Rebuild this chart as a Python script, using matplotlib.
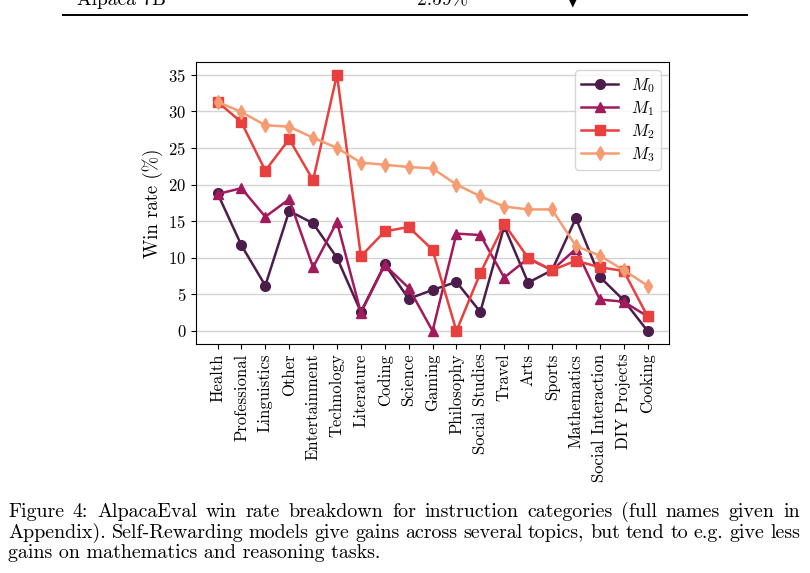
import matplotlib
matplotlib.use("Agg")
from matplotlib import pyplot as plt
import seaborn as sns

plt.rcParams["font.family"] = "serif"
plt.rcParams["font.serif"] = ["cmr10"]
plt.rcParams["mathtext.fontset"] = "cm"
plt.rcParams["axes.formatter.use_mathtext"] = True

# categories and win rates (%) per model iteration
categories = ["Health", "Professional", "Linguistics", "Other", "Entertainment",
              "Technology", "Literature", "Coding", "Science", "Gaming",
              "Philosophy", "Social Studies", "Travel", "Arts", "Sports",
              "Mathematics", "Social Interaction", "DIY Projects", "Cooking"]
m0 = [18.8, 11.7, 6.2, 16.4, 14.7, 10.0, 2.6, 9.1, 4.4, 5.6,
      6.7, 2.6, 14.3, 6.6, 8.3, 15.4, 7.4, 4.2, 0.0]
m1 = [18.7, 19.5, 15.6, 18.0, 8.7, 14.9, 2.5, 9.0, 5.9, 0.0,
      13.3, 13.1, 7.3, 9.9, 8.3, 11.2, 4.3, 4.0, 2.0]
m2 = [31.3, 28.5, 21.9, 26.2, 20.6, 35.0, 10.2, 13.6, 14.2, 11.1,
      0.0, 7.9, 14.6, 10.0, 8.3, 9.6, 8.7, 8.2, 2.0]
m3 = [31.3, 29.9, 28.1, 27.9, 26.4, 25.0, 23.0, 22.7, 22.4, 22.2,
      20.0, 18.4, 17.0, 16.6, 16.6, 11.6, 10.3, 8.3, 6.2]
series = [m0, m1, m2, m3]
labels = [r"$M_0$", r"$M_1$", r"$M_2$", r"$M_3$"]
markers = ["o", "^", "s", "d"]

caption = [
    "Figure 4: AlpacaEval win rate breakdown for instruction categories (full names given in",
    "Appendix). Self-Rewarding models give gains across several topics, but tend to e.g. give less",
    "gains on mathematics and reasoning tasks.",
]

fig = plt.figure(figsize=(8.1, 5.73), dpi=100)
ax = fig.add_axes([0.242, 0.400, 0.584, 0.492])

colors = sns.color_palette("rocket", 4)
x = range(len(categories))
for vals, lab, mk, col in zip(series, labels, markers, colors):
    ax.plot(x, vals, marker=mk, color=col, label=lab, linewidth=1.8, markersize=7)

ax.set_xticks(list(x))
ax.set_xticklabels(categories, rotation=90, fontsize=12)
ax.set_yticks(range(0, 36, 5))
ax.tick_params(axis="y", labelsize=12)
ax.set_ylabel("Win rate (%)", fontsize=13.5)
ax.yaxis.grid(True, color="#d3d3d3", linewidth=1)
ax.set_axisbelow(True)
ax.legend(loc="upper right", fontsize=12, labelspacing=0.25, borderpad=0.35,
          handlelength=2.2)

# remnants of the page around the figure
fig.add_artist(plt.Line2D([63 / 810, 747 / 810], [1 - 14.5 / 573] * 2,
                          transform=fig.transFigure, color="black", linewidth=1.4))
fig.text(77 / 810, 1 - 5 / 573, "Alpaca 7B", fontsize=14, va="baseline")
fig.text(417 / 810, 1 - 5 / 573, "2.59%", fontsize=14, va="baseline")
fig.text(568 / 810, 1 - 5 / 573, "\u25bc", fontsize=9, va="baseline", family="DejaVu Sans")

# caption, justified between x=8 and x=800 px except for the last line
renderer = fig.canvas.get_renderer()
left_px, right_px = 8, 800
cap_size = 14.4
for i, line in enumerate(caption):
    y = 1 - (517 + 20.5 * i) / 573
    if i == len(caption) - 1:
        fig.text(left_px / 810, y, line, fontsize=cap_size, va="baseline")
        continue
    words = line.split(" ")
    arts = [fig.text(0, y, w, fontsize=cap_size, va="baseline") for w in words]
    widths = [a.get_window_extent(renderer).width for a in arts]
    gap = (right_px - left_px - sum(widths)) / (len(words) - 1)
    pos = left_px
    for a, w in zip(arts, widths):
        a.set_x(pos / 810)
        pos += w + gap

fig.savefig("out.png", dpi=100)
